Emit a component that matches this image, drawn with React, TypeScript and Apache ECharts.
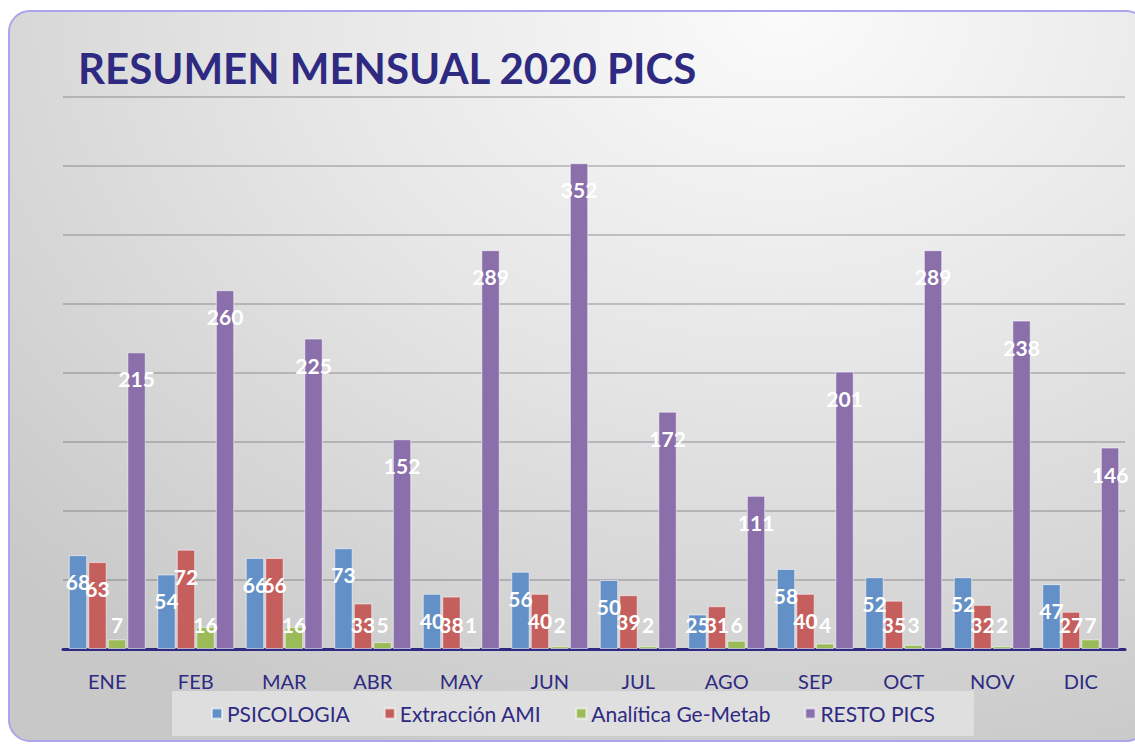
import React, { useEffect, useRef } from "react";
import * as echarts from "echarts";

const months = ["ENE", "FEB", "MAR", "ABR", "MAY", "JUN", "JUL", "AGO", "SEP", "OCT", "NOV", "DIC"];
const psicologia = [68, 54, 66, 73, 40, 56, 50, 25, 58, 52, 52, 47];
const extraccionAMI = [63, 72, 66, 33, 38, 40, 39, 31, 40, 35, 32, 27];
const analitica = [7, 16, 16, 5, 1, 2, 2, 6, 4, 3, 2, 7];
const restoPics = [215, 260, 225, 152, 289, 352, 172, 111, 201, 289, 238, 146];

const seriesNames = ["PSICOLOGIA", "Extracción AMI", "Analítica Ge-Metab", "RESTO PICS"];
const seriesColors = ["#6390c6", "#c55f5d", "#9bbb59", "#8b6fab"];

const NAVY = "#2e2a82";
const FONT = "Lato, 'Open Sans', sans-serif";

function buildData(values: number[]) {
  return values.map((v) => {
    const small = v < 39;
    return {
      value: v,
      label: small
        ? { position: "insideBottom", distance: 14 }
        : { position: "insideTop", distance: 16 },
    };
  });
}

export default function App() {
  const ref = useRef<HTMLDivElement>(null);

  useEffect(() => {
    if (!ref.current) return;
    const chart = echarts.init(ref.current, undefined, { renderer: "svg" });
    const allSeries = [psicologia, extraccionAMI, analitica, restoPics];
    chart.setOption({
      animation: false,
      backgroundColor: "transparent",
      title: {
        text: "RESUMEN MENSUAL 2020 PICS",
        left: 73,
        top: 42,
        textStyle: {
          fontFamily: FONT,
          fontWeight: "bold",
          fontSize: 42,
          color: NAVY,
        },
      },
      legend: {
        data: seriesNames,
        left: 172,
        top: 691,
        backgroundColor: "rgba(226,226,226,0.85)",
        padding: [12, 39],
        itemGap: 34,
        itemWidth: 10,
        itemHeight: 10,
        icon: "rect",
        textStyle: { fontFamily: FONT, fontSize: 21, color: NAVY },
      },
      grid: { left: 63, right: 10, top: 97, bottom: 96, containLabel: false },
      xAxis: {
        type: "category",
        data: months,
        axisTick: { show: false },
        axisLine: { lineStyle: { color: NAVY, width: 3 } },
        axisLabel: {
          margin: 22,
          fontFamily: FONT,
          fontSize: 20,
          color: NAVY,
        },
      },
      yAxis: {
        type: "value",
        min: 0,
        max: 400,
        interval: 50,
        axisLabel: { show: false },
        axisLine: { show: false },
        axisTick: { show: false },
        splitLine: { lineStyle: { color: "rgba(90,90,100,0.3)", width: 2 } },
      },
      series: allSeries.map((vals, i) => ({
        name: seriesNames[i],
        type: "bar",
        data: buildData(vals),
        barGap: "6%",
        barCategoryGap: "13%",
        itemStyle: {
          color: seriesColors[i],
          borderColor: "rgba(255,255,255,0.55)",
          borderWidth: 1,
        },
        label: {
          show: true,
          color: "#ffffff",
          fontFamily: FONT,
          fontWeight: "bold",
          fontSize: 21,
        },
      })),
    });
    return () => chart.dispose();
  }, []);

  return (
    <div style={{ position: "fixed", left: 0, top: 0, width: 1135, height: 745, background: "#ffffff", overflow: "hidden" }}>
      <div
        style={{
          position: "absolute",
          left: 8,
          top: 10,
          width: 1140,
          height: 732,
          borderRadius: 22,
          border: "2px solid #aaa5ec",
          background: "radial-gradient(ellipse 95% 110% at 68% 0%, #fbfbfb 0%, #e6e6e6 45%, #c8c8c8 100%)",
          boxSizing: "border-box",
        }}
      />
      <div ref={ref} style={{ position: "absolute", left: 0, top: 0, width: 1135, height: 745 }} />
    </div>
  );
}
